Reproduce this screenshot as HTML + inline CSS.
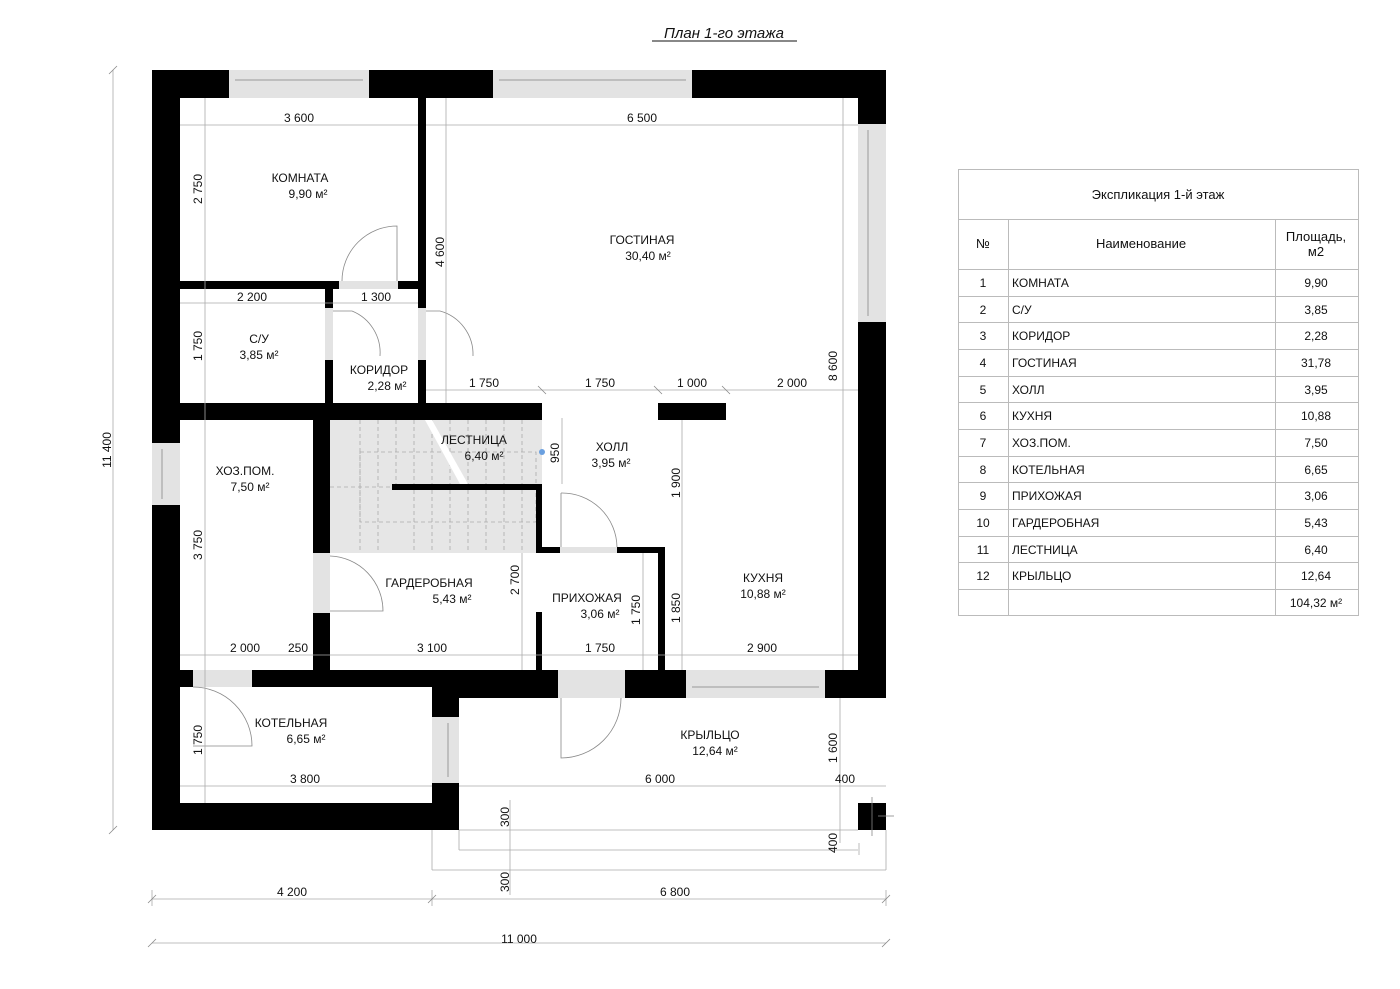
<!DOCTYPE html>
<html><head><meta charset="utf-8"><style>
body{margin:0;background:#fff;}
svg{display:block;}
text{font-family:"Liberation Sans",sans-serif;fill:#111;}
</style></head><body>
<svg width="1400" height="989" viewBox="0 0 1400 989" xmlns="http://www.w3.org/2000/svg">
<!-- title -->
<text x="724" y="38" font-size="15" text-anchor="middle" font-style="italic">План 1-го этажа</text>
<line x1="652" y1="41" x2="797" y2="41" stroke="#111" stroke-width="1"/>

<!-- stair shading -->
<rect x="330" y="420" width="212" height="133" fill="#e6e6e6"/>
<g stroke="#aaa" stroke-width="0.8" stroke-dasharray="4,3" fill="none">
<line x1="360" y1="420" x2="360" y2="553"/><line x1="378" y1="420" x2="378" y2="553"/><line x1="396" y1="420" x2="396" y2="484"/>
<line x1="414" y1="420" x2="414" y2="553"/><line x1="432" y1="420" x2="432" y2="553"/><line x1="450" y1="420" x2="450" y2="553"/>
<line x1="468" y1="420" x2="468" y2="553"/><line x1="486" y1="420" x2="486" y2="553"/><line x1="504" y1="420" x2="504" y2="553"/><line x1="522" y1="420" x2="522" y2="553"/>
<rect x="360" y="452" width="176" height="70"/>
<line x1="330" y1="487" x2="392" y2="487"/>
</g>
<polygon points="425,420 432,420 468,484 460,484" fill="#fff"/>
<circle cx="542" cy="452" r="3" fill="#6aa0e0"/>

<!-- windows / doors gray -->
<g fill="#e3e3e3">
<rect x="229" y="70" width="140" height="28"/><rect x="493" y="70" width="199" height="28"/>
<rect x="858" y="124" width="28" height="198"/><rect x="152" y="443" width="28" height="62"/>
<rect x="686" y="670" width="139" height="28"/><rect x="432" y="717" width="27" height="66"/>
<rect x="558" y="670" width="67" height="28"/><rect x="193" y="670" width="59" height="17"/>
<rect x="339" y="281" width="59" height="8"/><rect x="325" y="308" width="8" height="52"/><rect x="418" y="308" width="8" height="52"/>
<rect x="313" y="553" width="17" height="60"/><rect x="560" y="547" width="57" height="6"/>
</g>
<g stroke="#999" stroke-width="1">
<line x1="235" y1="80" x2="363" y2="80"/><line x1="499" y1="80" x2="686" y2="80"/>
<line x1="868" y1="130" x2="868" y2="316"/><line x1="162" y1="449" x2="162" y2="499"/>
<line x1="692" y1="687" x2="819" y2="687"/><line x1="448" y1="723" x2="448" y2="777"/>
</g>

<!-- walls -->
<g fill="#000">
<rect x="152" y="70" width="77" height="28"/><rect x="369" y="70" width="124" height="28"/><rect x="692" y="70" width="194" height="28"/>
<rect x="152" y="70" width="28" height="373"/><rect x="152" y="505" width="28" height="325"/>
<rect x="858" y="70" width="28" height="54"/><rect x="858" y="322" width="28" height="376"/>
<rect x="152" y="803" width="307" height="27"/>
<rect x="152" y="670" width="41" height="17"/><rect x="252" y="670" width="180" height="17"/>
<rect x="432" y="670" width="126" height="28"/><rect x="432" y="670" width="27" height="47"/><rect x="432" y="783" width="27" height="47"/>
<rect x="625" y="670" width="61" height="28"/><rect x="825" y="670" width="61" height="28"/>
<rect x="858" y="803" width="28" height="27"/>
<rect x="418" y="98" width="8" height="210"/><rect x="418" y="360" width="8" height="43"/>
<rect x="180" y="281" width="159" height="8"/><rect x="398" y="281" width="20" height="8"/>
<rect x="325" y="289" width="8" height="19"/><rect x="325" y="360" width="8" height="43"/>
<rect x="180" y="403" width="362" height="17"/><rect x="658" y="403" width="68" height="17"/>
<rect x="313" y="420" width="17" height="133"/><rect x="313" y="613" width="17" height="57"/>
<rect x="392" y="484" width="150" height="6"/><rect x="536" y="484" width="6" height="69"/>
<rect x="536" y="547" width="24" height="6"/><rect x="617" y="547" width="48" height="6"/>
<rect x="658" y="547" width="7" height="123"/><rect x="536" y="612" width="6" height="58"/>
</g>

<!-- door arcs -->
<g stroke="#888" stroke-width="0.8" fill="none">
<path d="M342 281 A55 55 0 0 1 397 226 L397 281"/>
<path d="M333 311 L352 311 A45 45 0 0 1 380 356"/>
<path d="M426 311 L440 311 A45 45 0 0 1 473 356"/>
<path d="M330 556 A55 55 0 0 1 383 611 L330 611"/>
<path d="M561 493 A55 55 0 0 1 617 547 M561 493 L561 547"/>
<path d="M561 698 L561 758 A60 60 0 0 0 621 698"/>
<path d="M193 687 A59 59 0 0 1 252 746 L193 746"/>
</g>

<!-- dimension lines -->
<g stroke="#aaa" stroke-width="0.8" fill="none">
<line x1="180" y1="125" x2="418" y2="125"/><line x1="426" y1="125" x2="858" y2="125"/>
<line x1="205" y1="98" x2="205" y2="803"/>
<line x1="446" y1="98" x2="446" y2="403"/>
<line x1="180" y1="303" x2="418" y2="303"/>
<line x1="426" y1="390" x2="858" y2="390"/>
<line x1="843" y1="98" x2="843" y2="670"/>
<line x1="180" y1="655" x2="858" y2="655"/>
<line x1="522" y1="553" x2="522" y2="670"/><line x1="643" y1="553" x2="643" y2="670"/>
<line x1="682" y1="420" x2="682" y2="670"/><line x1="562" y1="418" x2="562" y2="484"/>
<line x1="180" y1="786" x2="432" y2="786"/><line x1="459" y1="786" x2="886" y2="786"/>
<line x1="840" y1="698" x2="840" y2="843"/><line x1="859" y1="843" x2="859" y2="855"/>
<line x1="459" y1="830" x2="858" y2="830"/><line x1="459" y1="830" x2="459" y2="850"/>
<line x1="459" y1="850" x2="858" y2="850"/><line x1="432" y1="830" x2="432" y2="870"/><line x1="432" y1="870" x2="886" y2="870"/><line x1="886" y1="830" x2="886" y2="870"/>
<line x1="510" y1="800" x2="510" y2="895"/>
<line x1="152" y1="899" x2="886" y2="899"/><line x1="152" y1="890" x2="152" y2="906"/><line x1="432" y1="890" x2="432" y2="906"/><line x1="886" y1="890" x2="886" y2="906"/>
<line x1="152" y1="943" x2="886" y2="943"/>
<line x1="113" y1="70" x2="113" y2="830"/>
</g>
<g stroke="#888" stroke-width="0.8">
<line x1="538" y1="386" x2="546" y2="394"/><line x1="654" y1="386" x2="662" y2="394"/><line x1="722" y1="386" x2="730" y2="394"/>
<line x1="148" y1="947" x2="156" y2="939"/><line x1="882" y1="947" x2="890" y2="939"/>
<line x1="148" y1="903" x2="156" y2="895"/><line x1="428" y1="903" x2="436" y2="895"/><line x1="882" y1="903" x2="890" y2="895"/>
<line x1="109" y1="74" x2="117" y2="66"/><line x1="109" y1="834" x2="117" y2="826"/>
<line x1="878" y1="816" x2="894" y2="816"/><line x1="872" y1="797" x2="872" y2="836"/>
</g>

<!-- dimension text -->
<g font-size="12" text-anchor="middle">
<text x="299" y="122">3 600</text><text x="642" y="122">6 500</text>
<text x="252" y="301">2 200</text><text x="376" y="301">1 300</text>
<text x="484" y="387">1 750</text><text x="600" y="387">1 750</text><text x="692" y="387">1 000</text><text x="792" y="387">2 000</text>
<text x="245" y="652">2 000</text><text x="298" y="652">250</text><text x="432" y="652">3 100</text><text x="600" y="652">1 750</text><text x="762" y="652">2 900</text>
<text x="305" y="783">3 800</text><text x="660" y="783">6 000</text><text x="845" y="783">400</text>
<text x="292" y="896">4 200</text><text x="675" y="896">6 800</text><text x="519" y="943">11 000</text>
<text transform="translate(202,189) rotate(-90)">2 750</text>
<text transform="translate(202,346) rotate(-90)">1 750</text>
<text transform="translate(202,545) rotate(-90)">3 750</text>
<text transform="translate(202,740) rotate(-90)">1 750</text>
<text transform="translate(444,252) rotate(-90)">4 600</text>
<text transform="translate(837,366) rotate(-90)">8 600</text>
<text transform="translate(559,453) rotate(-90)">950</text>
<text transform="translate(680,483) rotate(-90)">1 900</text>
<text transform="translate(680,608) rotate(-90)">1 850</text>
<text transform="translate(519,580) rotate(-90)">2 700</text>
<text transform="translate(640,610) rotate(-90)">1 750</text>
<text transform="translate(837,748) rotate(-90)">1 600</text>
<text transform="translate(509,817) rotate(-90)">300</text>
<text transform="translate(509,882) rotate(-90)">300</text>
<text transform="translate(837,843) rotate(-90)">400</text>
<text transform="translate(111,450) rotate(-90)">11 400</text>
</g>

<!-- room labels -->
<g font-size="12" text-anchor="middle">
<text x="300" y="182">КОМНАТА</text><text x="308" y="198">9,90 м²</text>
<text x="642" y="244">ГОСТИНАЯ</text><text x="648" y="260">30,40 м²</text>
<text x="259" y="343">С/У</text><text x="259" y="359">3,85 м²</text>
<text x="379" y="374">КОРИДОР</text><text x="387" y="390">2,28 м²</text>
<text x="474" y="444">ЛЕСТНИЦА</text><text x="484" y="460">6,40 м²</text>
<text x="612" y="451">ХОЛЛ</text><text x="611" y="467">3,95 м²</text>
<text x="245" y="475">ХОЗ.ПОМ.</text><text x="250" y="491">7,50 м²</text>
<text x="429" y="587">ГАРДЕРОБНАЯ</text><text x="452" y="603">5,43 м²</text>
<text x="587" y="602">ПРИХОЖАЯ</text><text x="600" y="618">3,06 м²</text>
<text x="763" y="582">КУХНЯ</text><text x="763" y="598">10,88 м²</text>
<text x="291" y="727">КОТЕЛЬНАЯ</text><text x="306" y="743">6,65 м²</text>
<text x="710" y="739">КРЫЛЬЦО</text><text x="715" y="755">12,64 м²</text>
</g>

<!-- table -->
<g stroke="#bbb" stroke-width="1" fill="none">
<rect x="958.5" y="169.5" width="400" height="446"/>
<line x1="958" y1="219.5" x2="1358" y2="219.5"/><line x1="958" y1="269.5" x2="1358" y2="269.5"/>
<line x1="958" y1="296.5" x2="1358" y2="296.5"/><line x1="958" y1="322.5" x2="1358" y2="322.5"/><line x1="958" y1="349.5" x2="1358" y2="349.5"/>
<line x1="958" y1="376.5" x2="1358" y2="376.5"/><line x1="958" y1="402.5" x2="1358" y2="402.5"/><line x1="958" y1="429.5" x2="1358" y2="429.5"/>
<line x1="958" y1="456.5" x2="1358" y2="456.5"/><line x1="958" y1="482.5" x2="1358" y2="482.5"/><line x1="958" y1="509.5" x2="1358" y2="509.5"/>
<line x1="958" y1="536.5" x2="1358" y2="536.5"/><line x1="958" y1="562.5" x2="1358" y2="562.5"/><line x1="958" y1="589.5" x2="1358" y2="589.5"/>
<line x1="1008.5" y1="219" x2="1008.5" y2="615"/><line x1="1275.5" y1="219" x2="1275.5" y2="615"/>
</g>
<g font-size="13">
<text x="1158" y="199" text-anchor="middle">Экспликация 1-й этаж</text>
<text x="983" y="248" text-anchor="middle">№</text>
<text x="1141" y="248" text-anchor="middle">Наименование</text>
<text x="1316" y="241" text-anchor="middle">Площадь,</text><text x="1316" y="256" text-anchor="middle">м2</text>
</g>
<g font-size="12">
<g text-anchor="middle">
<text x="983" y="287">1</text><text x="983" y="314">2</text><text x="983" y="340">3</text><text x="983" y="367">4</text>
<text x="983" y="394">5</text><text x="983" y="420">6</text><text x="983" y="447">7</text><text x="983" y="474">8</text>
<text x="983" y="500">9</text><text x="983" y="527">10</text><text x="983" y="554">11</text><text x="983" y="580">12</text>
<text x="1316" y="287">9,90</text><text x="1316" y="314">3,85</text><text x="1316" y="340">2,28</text><text x="1316" y="367">31,78</text>
<text x="1316" y="394">3,95</text><text x="1316" y="420">10,88</text><text x="1316" y="447">7,50</text><text x="1316" y="474">6,65</text>
<text x="1316" y="500">3,06</text><text x="1316" y="527">5,43</text><text x="1316" y="554">6,40</text><text x="1316" y="580">12,64</text>
<text x="1316" y="607">104,32 м²</text>
</g>
<text x="1012" y="287">КОМНАТА</text><text x="1012" y="314">С/У</text><text x="1012" y="340">КОРИДОР</text><text x="1012" y="367">ГОСТИНАЯ</text>
<text x="1012" y="394">ХОЛЛ</text><text x="1012" y="420">КУХНЯ</text><text x="1012" y="447">ХОЗ.ПОМ.</text><text x="1012" y="474">КОТЕЛЬНАЯ</text>
<text x="1012" y="500">ПРИХОЖАЯ</text><text x="1012" y="527">ГАРДЕРОБНАЯ</text><text x="1012" y="554">ЛЕСТНИЦА</text><text x="1012" y="580">КРЫЛЬЦО</text>
</g>
</svg>
</body></html>
